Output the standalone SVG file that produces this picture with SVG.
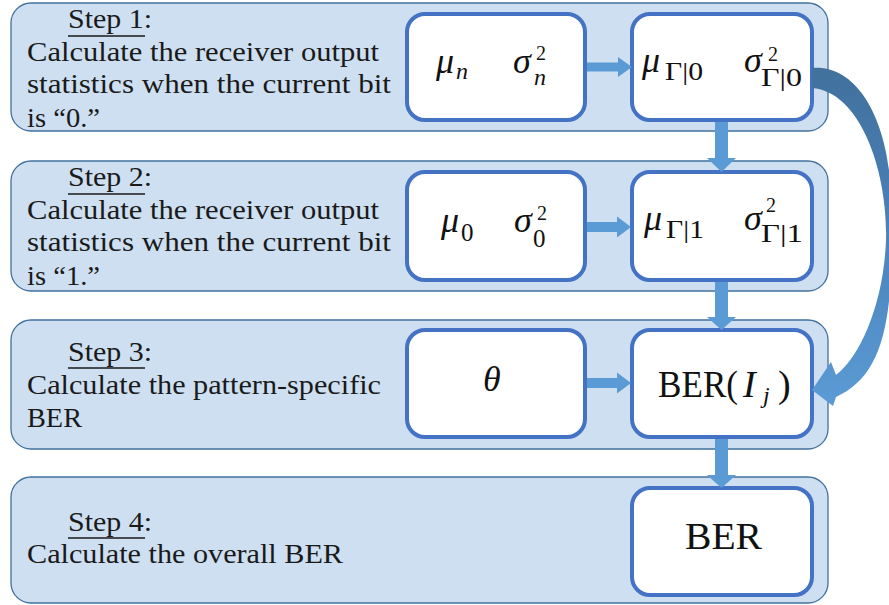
<svg xmlns="http://www.w3.org/2000/svg" width="889" height="605" viewBox="0 0 889 605">
<defs>
<style>
.panel{fill:#cddff0;stroke:#41719c;stroke-width:1.3}
.box{fill:#ffffff;stroke:#4472c4;stroke-width:4}
.arr{fill:#5b9bd5}
.t{font-family:'Liberation Serif','Times New Roman','DejaVu Serif',serif;font-size:27px;fill:#1a1a1a}
.ul{stroke:#1a1a1a;stroke-width:1.3}
.m{font-family:'Liberation Serif','Times New Roman','DejaVu Serif',serif;font-style:italic;font-size:36px;fill:#111}
.sub{font-family:'Liberation Serif','Times New Roman','DejaVu Serif',serif;font-size:25px;fill:#111}
.subi{font-family:'Liberation Serif','Times New Roman','DejaVu Serif',serif;font-style:italic;font-size:24px;fill:#111}
.sup{font-family:'Liberation Serif','Times New Roman','DejaVu Serif',serif;font-size:20px;fill:#111}
.big{font-family:'Liberation Serif','Times New Roman','DejaVu Serif',serif;font-size:38px;fill:#111}
</style>
<linearGradient id="cg" x1="0" y1="68" x2="0" y2="406" gradientUnits="userSpaceOnUse">
<stop offset="0" stop-color="#41719c"/>
<stop offset="0.45" stop-color="#4a80b8"/>
<stop offset="1" stop-color="#5b9bd5"/>
</linearGradient>
</defs>

<g id="step1">
<rect class="panel" x="11" y="3" width="817" height="128" rx="20"/>
<text class="t" x="68" y="28" textLength="84" lengthAdjust="spacingAndGlyphs">Step 1:</text>
<line class="ul" x1="68" y1="36" x2="145" y2="36"/>
<text class="t" x="27" y="61" textLength="352" lengthAdjust="spacingAndGlyphs">Calculate the receiver output</text>
<text class="t" x="27" y="93" textLength="364" lengthAdjust="spacingAndGlyphs">statistics when the current bit</text>
<text class="t" x="27" y="127" textLength="73" lengthAdjust="spacingAndGlyphs">is “0.”</text>
</g>
<g id="n-mu-n">
<rect class="box" x="407" y="14" width="178" height="106" rx="18"/>
<text class="m" x="436" y="73">μ</text>
<text class="subi" x="456" y="79">n</text>
<text class="m" x="513" y="73">σ</text>
<text class="sup" x="536" y="60">2</text>
<text class="subi" x="534" y="85">n</text>
</g>
<g id="n-mu-g0">
<rect class="box" x="632" y="14" width="180" height="106" rx="18"/>
<text class="m" x="642" y="72">μ</text>
<text class="sub" x="665" y="80" textLength="38" lengthAdjust="spacingAndGlyphs">Γ|0</text>
<text class="m" x="744" y="72">σ</text>
<text class="sup" x="768" y="61">2</text>
<text class="sub" x="761" y="86" textLength="41" lengthAdjust="spacingAndGlyphs">Γ|0</text>
</g>

<g id="step2">
<rect class="panel" x="11" y="161" width="817" height="130" rx="20"/>
<text class="t" x="68" y="186" textLength="84" lengthAdjust="spacingAndGlyphs">Step 2:</text>
<line class="ul" x1="68" y1="194" x2="145" y2="194"/>
<text class="t" x="27" y="219" textLength="352" lengthAdjust="spacingAndGlyphs">Calculate the receiver output</text>
<text class="t" x="27" y="251" textLength="364" lengthAdjust="spacingAndGlyphs">statistics when the current bit</text>
<text class="t" x="27" y="285" textLength="73" lengthAdjust="spacingAndGlyphs">is “1.”</text>
</g>
<g id="n-mu-0">
<rect class="box" x="407" y="172" width="178" height="108" rx="18"/>
<text class="m" x="441" y="232">μ</text>
<text class="sub" x="461" y="241">0</text>
<text class="m" x="514" y="232">σ</text>
<text class="sup" x="537" y="220">2</text>
<text class="sub" x="533" y="247">0</text>
</g>
<g id="n-mu-g1">
<rect class="box" x="632" y="172" width="180" height="108" rx="18"/>
<text class="m" x="644" y="230">μ</text>
<text class="sub" x="666" y="238" textLength="38" lengthAdjust="spacingAndGlyphs">Γ|1</text>
<text class="m" x="744" y="230">σ</text>
<text class="sup" x="766" y="212">2</text>
<text class="sub" x="761" y="242" textLength="42" lengthAdjust="spacingAndGlyphs">Γ|1</text>
</g>

<g id="step3">
<rect class="panel" x="11" y="320" width="817" height="129" rx="20"/>
<text class="t" x="68" y="361" textLength="84" lengthAdjust="spacingAndGlyphs">Step 3:</text>
<line class="ul" x1="68" y1="368" x2="145" y2="368"/>
<text class="t" x="27" y="394" textLength="354" lengthAdjust="spacingAndGlyphs">Calculate the pattern-specific</text>
<text class="t" x="27" y="427" textLength="55" lengthAdjust="spacingAndGlyphs">BER</text>
</g>
<g id="n-theta">
<rect class="box" x="407" y="330" width="178" height="107" rx="18"/>
<text class="m" x="483" y="391">θ</text>
</g>
<g id="n-berij">
<rect class="box" x="632" y="330" width="180" height="107" rx="18"/>
<text class="big" x="658" y="397" textLength="80" lengthAdjust="spacingAndGlyphs">BER(</text>
<text class="big" x="743" y="397" font-style="italic">I</text>
<text class="subi" x="763" y="403">j</text>
<text class="big" x="778" y="397">)</text>
</g>

<g id="step4">
<rect class="panel" x="11" y="477" width="817" height="126" rx="20"/>
<text class="t" x="68" y="531" textLength="84" lengthAdjust="spacingAndGlyphs">Step 4:</text>
<line class="ul" x1="68" y1="538" x2="145" y2="538"/>
<text class="t" x="27" y="563" textLength="316" lengthAdjust="spacingAndGlyphs">Calculate the overall BER</text>
</g>
<g id="n-ber">
<rect class="box" x="632" y="488" width="180" height="107" rx="18"/>
<text class="big" x="685" y="549" textLength="77" lengthAdjust="spacingAndGlyphs">BER</text>
</g>

<g id="connectors">
<polygon class="arr" points="587,62.5 618,62.5 618,57 632,67 618,77 618,71.5 587,71.5"/>
<polygon class="arr" points="587,222 617,222 617,216.5 631,227 617,237.5 617,232 587,232"/>
<polygon class="arr" points="587,378 617,378 617,372.5 631,383 617,393.5 617,388 587,388"/>
<polygon class="arr" points="715,122 728,122 728,158 736,158 721.5,172 707,158 715,158"/>
<polygon class="arr" points="715,282 728,282 728,317 736,317 721.5,330 707,317 715,317"/>
<polygon class="arr" points="715,439 728,439 728,475 736,475 721.5,488 707,475 715,475"/>
<path fill="url(#cg)" d="M 812 68 C 858 64, 890 122, 891 200 C 895 320, 884 375, 836 397 L 833 406 L 812 390 L 831 362 L 836 375 C 862 355, 884 300, 886 240 C 888 175, 862 92, 812 88 Z"/>
</g>
</svg>
